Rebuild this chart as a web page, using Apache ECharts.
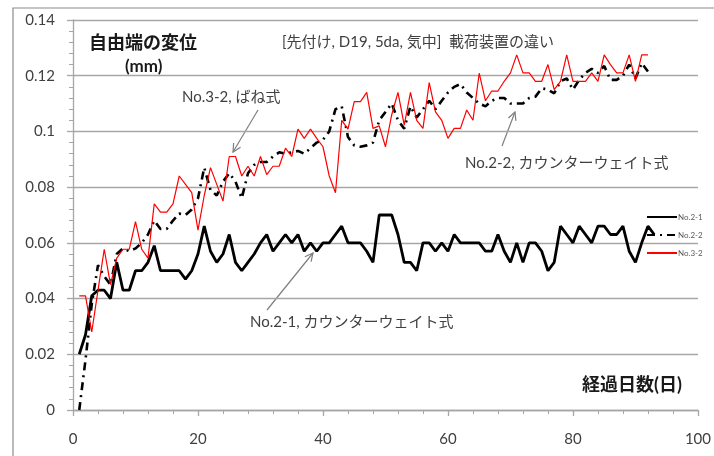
<!DOCTYPE html>
<html>
<head>
<meta charset="utf-8">
<script src="https://cdn.jsdelivr.net/npm/echarts@6/dist/echarts.min.js"></script>
<style>
  html, body { margin: 0; padding: 0; background: #fff; }
  #chart { width: 714px; height: 456px; }
</style>
</head>
<body>
<div id="chart"></div>
<script>
// 経過日数
const days = [
    1, 2, 3, 4, 5, 6, 7, 8, 9, 10, 11, 12, 13, 14, 15, 16, 17, 18, 19, 20,
    21, 22, 23, 24, 25, 26, 27, 28, 29, 30, 31, 32, 33, 34, 35, 36, 37, 38, 39, 40,
    41, 42, 43, 44, 45, 46, 47, 48, 49, 50, 51, 52, 53, 54, 55, 56, 57, 58, 59, 60,
    61, 62, 63, 64, 65, 66, 67, 68, 69, 70, 71, 72, 73, 74, 75, 76, 77, 78, 79, 80,
    81, 82, 83, 84, 85, 86, 87, 88, 89, 90, 91, 92, 93
];

// 自由端の変位 (mm)
const no21 = [
    0.020, 0.027, 0.041, 0.043, 0.043, 0.040, 0.053, 0.043, 0.043, 0.050,
    0.050, 0.053, 0.059, 0.050, 0.050, 0.050, 0.050, 0.047, 0.050, 0.056,
    0.066, 0.057, 0.053, 0.056, 0.063, 0.053, 0.050, 0.053, 0.056, 0.060,
    0.063, 0.057, 0.060, 0.063, 0.060, 0.063, 0.057, 0.060, 0.057, 0.060,
    0.060, 0.063, 0.066, 0.060, 0.060, 0.060, 0.057, 0.053, 0.070, 0.070,
    0.070, 0.063, 0.053, 0.053, 0.050, 0.060, 0.060, 0.057, 0.060, 0.057,
    0.063, 0.060, 0.060, 0.060, 0.060, 0.057, 0.057, 0.063, 0.057, 0.053,
    0.060, 0.053, 0.060, 0.060, 0.057, 0.050, 0.053, 0.066, 0.063, 0.060,
    0.066, 0.063, 0.060, 0.066, 0.066, 0.063, 0.063, 0.066, 0.057, 0.053,
    0.060, 0.066, 0.063
];

const no22 = [
    0.000, 0.018, 0.038, 0.052, 0.048, 0.045, 0.056, 0.058, 0.057, 0.058,
    0.060, 0.063, 0.068, 0.065, 0.065, 0.068, 0.0705, 0.070, 0.072, 0.076,
    0.087, 0.079, 0.077, 0.082, 0.085, 0.082, 0.076, 0.085, 0.088, 0.089,
    0.089, 0.091, 0.0925, 0.092, 0.0925, 0.093, 0.092, 0.094, 0.096, 0.097,
    0.100, 0.108, 0.109, 0.098, 0.095, 0.0945, 0.095, 0.096, 0.104, 0.107,
    0.110, 0.104, 0.101, 0.109, 0.105, 0.108, 0.111, 0.108, 0.111, 0.114,
    0.116, 0.117, 0.114, 0.112, 0.110, 0.109, 0.111, 0.112, 0.112, 0.110,
    0.110, 0.110, 0.112, 0.1125, 0.1155, 0.115, 0.1137, 0.118, 0.119, 0.115,
    0.1185, 0.121, 0.1225, 0.121, 0.1235, 0.1185, 0.1185, 0.120, 0.124, 0.119,
    0.1245, 0.1215
];

const no32 = [
    0.041, 0.041, 0.028, 0.043, 0.0577, 0.045, 0.0545, 0.0577, 0.0577, 0.0676,
    0.0577, 0.0545, 0.074, 0.071, 0.071, 0.074, 0.084, 0.081, 0.078, 0.0646,
    0.077, 0.087, 0.081, 0.075, 0.091, 0.091, 0.084, 0.0875, 0.084, 0.091,
    0.0845, 0.0875, 0.0875, 0.094, 0.091, 0.1008, 0.0975, 0.1008, 0.0975, 0.0945,
    0.084, 0.078, 0.104, 0.1008, 0.1107, 0.1107, 0.114, 0.1011, 0.102, 0.0945,
    0.106, 0.114, 0.1023, 0.114, 0.104, 0.1011, 0.1175, 0.107, 0.104, 0.0975,
    0.1011, 0.1011, 0.1077, 0.104, 0.1209, 0.111, 0.1145, 0.1145, 0.118, 0.121,
    0.1275, 0.121, 0.121, 0.118, 0.118, 0.124, 0.115, 0.118, 0.1275, 0.118,
    0.118, 0.118, 0.121, 0.118, 0.1275, 0.124, 0.121, 0.121, 0.1275, 0.118,
    0.1275, 0.1275
];

const seriesNames = ['No.2-1', 'No.2-2', 'No.3-2'];

const FONT = 'Lato, "Noto Sans CJK JP", sans-serif';
const TEXT_COLOR = '#404040';
const GRID_COLOR = '#a6a6a6';

const toPairs = values => values.map((v, i) => [days[i], v]);

// 注釈の矢印
const arrow = (x1, y1, x2, y2) => {
    const len = Math.hypot(x2 - x1, y2 - y1);
    const ux = (x2 - x1) / len;
    const uy = (y2 - y1) / len;
    const bx = x2 - ux * 8;
    const by = y2 - uy * 8;
    const style = {stroke: '#7f7f7f', lineWidth: 1.2, fill: null};
    return [
        {type: 'line', silent: true, shape: {x1, y1, x2, y2}, style},
        {
            type: 'polyline',
            silent: true,
            shape: {points: [[bx - uy * 4, by + ux * 4], [x2, y2], [bx + uy * 4, by - ux * 4]]},
            style
        }
    ];
};

const label = (x, y, text, size, bold) => ({
    type: 'text',
    silent: true,
    x,
    y,
    style: {
        text,
        font: (bold ? 'bold ' : '') + size + 'px ' + FONT,
        fill: bold ? '#1a1a1a' : TEXT_COLOR,
        verticalAlign: 'middle'
    }
});

const chart = echarts.init(document.getElementById('chart'));

chart.setOption({
    backgroundColor: '#fff',
    animation: false,
    grid: {left: 73, right: 16, top: 20, bottom: 46},
    legend: {
        orient: 'vertical',
        left: 641,
        top: 208,
        itemWidth: 30,
        itemHeight: 10,
        itemGap: 10,
        data: seriesNames,
        itemStyle: {opacity: 0},
        textStyle: {fontSize: 8, color: '#595959', fontFamily: FONT, padding: [0, 0, 0, -4]}
    },
    xAxis: {
        type: 'value',
        min: 0,
        max: 100,
        interval: 20,
        axisLine: {lineStyle: {color: GRID_COLOR, width: 1.3}},
        axisTick: {length: 6, lineStyle: {color: GRID_COLOR, width: 1.3}},
        minorTick: {show: true, splitNumber: 5, length: 4, lineStyle: {color: GRID_COLOR}},
        splitLine: {show: false},
        axisLabel: {fontSize: 15, color: TEXT_COLOR, fontFamily: FONT, margin: 22}
    },
    yAxis: {
        type: 'value',
        min: 0,
        max: 0.14,
        interval: 0.02,
        axisLine: {show: true, lineStyle: {color: GRID_COLOR, width: 1.3}},
        axisTick: {show: true, length: 6, lineStyle: {color: GRID_COLOR, width: 1.3}},
        minorTick: {show: true, splitNumber: 5, length: 4, lineStyle: {color: GRID_COLOR}},
        splitLine: {lineStyle: {color: GRID_COLOR, width: 1.3}},
        axisLabel: {fontSize: 15, color: TEXT_COLOR, fontFamily: FONT, margin: 18}
    },
    series: [
        {
            name: seriesNames[0],
            type: 'line',
            symbol: 'none',
            data: toPairs(no21),
            lineStyle: {color: '#000', width: 2.8},
            itemStyle: {color: '#000'},
            z: 3
        },
        {
            name: seriesNames[1],
            type: 'line',
            symbol: 'none',
            data: toPairs(no22),
            lineStyle: {color: '#000', width: 2.6, type: [8, 5, 2, 5]},
            itemStyle: {color: '#000'},
            z: 2
        },
        {
            name: seriesNames[2],
            type: 'line',
            symbol: 'none',
            data: toPairs(no32),
            lineStyle: {color: '#ff0000', width: 1.2},
            itemStyle: {color: '#ff0000'},
            z: 4
        }
    ],
    graphic: [
        {
            type: 'rect',
            silent: true,
            shape: {x: 13, y: 8, width: 720, height: 470},
            style: {stroke: '#8c8c8c', lineWidth: 1.2, fill: null},
            z: -10
        },
        label(89, 43, '自由端の変位', 18, true),
        label(125, 67, '(mm)', 17, true),
        label(282, 42, '[先付け, D19, 5da, 気中]  載荷装置の違い', 15, false),
        label(182, 97, 'No.3-2, ばね式', 15, false),
        label(465, 163, 'No.2-2, カウンターウェイト式', 15, false),
        label(250, 322, 'No.2-1, カウンターウェイト式', 15, false),
        label(582, 385, '経過日数(日)', 18, true),
        ...arrow(258, 110, 233, 152),
        ...arrow(502, 146, 515, 112),
        ...arrow(267, 310, 313, 253)
    ]
});
</script>
</body>
</html>
